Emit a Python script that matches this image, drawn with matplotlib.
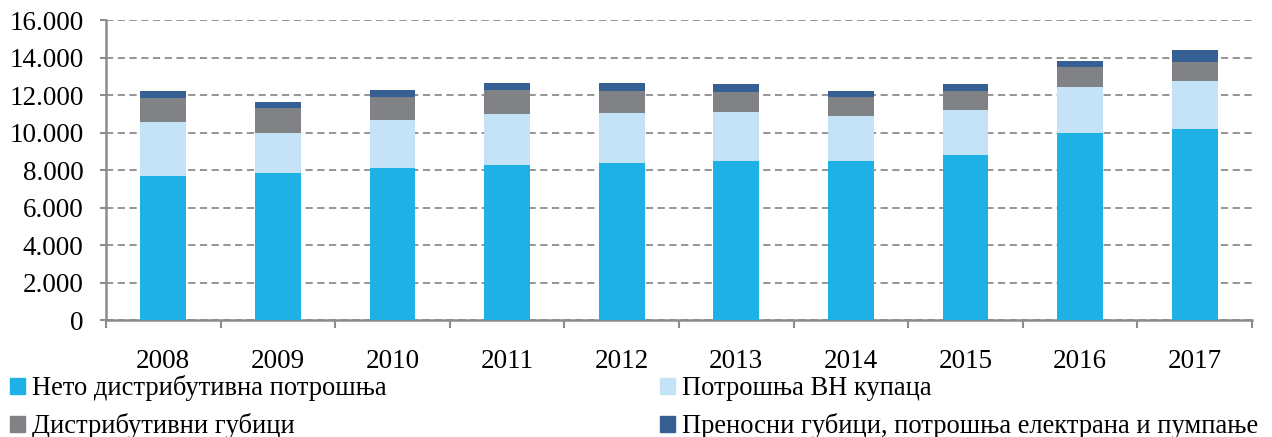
import numpy as np
from matplotlib import pyplot as plt
from matplotlib import rc
from matplotlib.patches import Patch
from matplotlib.ticker import FuncFormatter

rc('font', family=['Liberation Serif', 'DejaVu Serif'])
rc('font', size=19.5)

years = ['2008', '2009', '2010', '2011', '2012', '2013', '2014', '2015', '2016', '2017']

# GWh
net_dist = [7690, 7850, 8120, 8280, 8380, 8490, 8490, 8810, 9970, 10190]
hv_buyers = [2870, 2120, 2550, 2700, 2650, 2600, 2390, 2390, 2440, 2540]
dist_losses = [1270, 1330, 1220, 1270, 1170, 1060, 1010, 1010, 1060, 1010]
trans_losses = [370, 320, 370, 370, 420, 420, 320, 370, 370, 640]

names = ['Нето дистрибутивна потрошња', 'Потрошња ВН купаца',
         'Дистрибутивни губици', 'Преносни губици, потрошња електрана и пумпање']
colors = ['#1DB1E6', '#C5E3F6', '#808285', '#366093']

fig = plt.figure(figsize=(12.72, 4.37), dpi=100)
ax = fig.add_axes([0.0833, 0.2677, 0.9010, 0.6865])

x = np.arange(len(years))
bottom = np.zeros(len(years))
for vals, c in zip([net_dist, hv_buyers, dist_losses, trans_losses], colors):
    ax.bar(x, vals, width=0.40, bottom=bottom, color=c, zorder=3)
    bottom += np.array(vals)

ax.set_xlim(-0.5, len(years) - 0.5)
ax.set_ylim(0, 16000)
ax.set_yticks(np.arange(0, 16001, 2000))
ax.yaxis.set_major_formatter(FuncFormatter(lambda v, p: f'{int(v):,}'.replace(',', '.')))
ax.grid(axis='y', linestyle=(0, (4, 2.5)), color='#8C8C8C', linewidth=1.3, zorder=0)

ax.set_xticks(x)
ax.set_xticklabels(years)
ax.set_xticks(np.arange(-0.5, len(years)), minor=True)
ax.tick_params(axis='x', which='major', length=0, pad=21)
ax.tick_params(axis='x', which='minor', length=6, width=1.5, color='#8C8C8C')
ax.tick_params(axis='y', length=4, width=1.5, color='#8C8C8C', pad=12)

for s in ['top', 'right']:
    ax.spines[s].set_visible(False)
for s in ['left', 'bottom']:
    ax.spines[s].set_color('#8C8C8C')
    ax.spines[s].set_linewidth(1.8)

order = [0, 2, 1, 3]
handles = [Patch(color=colors[i]) for i in order]
fig.legend(handles, [names[i] for i in order], ncol=2, loc='lower left',
           bbox_to_anchor=(-0.007, -0.048), frameon=False, borderpad=0.2,
           handlelength=0.58, handleheight=0.58, handletextpad=0.25,
           columnspacing=10.3, labelspacing=0.46, fontsize=19.1)

plt.savefig('out.png', dpi=100)
